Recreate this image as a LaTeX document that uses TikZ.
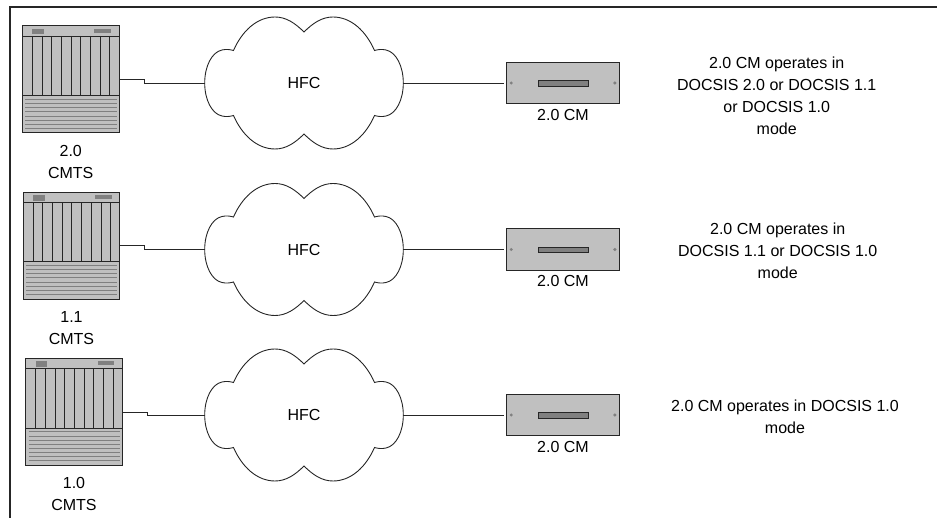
\documentclass[tikz,border=0pt]{standalone}
\usepackage{fontspec}
\setmainfont{Liberation Sans}
\usetikzlibrary{positioning}
\definecolor{boxgray}{HTML}{C0C0C0}
\definecolor{partgray}{HTML}{808080}
\definecolor{inkgray}{HTML}{262626}
\tikzset{
  lbl/.style={font=\fontsize{16}{22}\selectfont,align=center,inner sep=0pt,text=black},
  link/.style={draw=inkgray,line width=.9pt},
  frameline/.style={draw=inkgray,line width=1.2pt},
  cmtsbox/.style={draw=inkgray,line width=1pt,fill=boxgray,minimum width=96.5pt,minimum height=107pt,inner sep=0pt,outer sep=0pt},
  cmbox/.style={draw=inkgray,line width=1pt,fill=boxgray,minimum width=112.5pt,minimum height=41.5pt,inner sep=0pt,outer sep=0pt},
  hfcbox/.style={lbl,minimum width=198.6pt,minimum height=132pt,outer sep=0pt},
  chassis/.pic={
    \fill[partgray] (9.8,2.7) rectangle (21.5,8.3);
    \fill[partgray] (71.8,3) rectangle (88.5,6.7);
    \draw[inkgray,line width=.9pt] (0,10) -- (96.5,10) (0,69.5) -- (96.5,69.5);
    \draw[inkgray,line width=.9pt]
      (9.8,10) -- (9.8,69.5)
      (19.5,10) -- (19.5,69.5)
      (29.2,10) -- (29.2,69.5)
      (38.9,10) -- (38.9,69.5)
      (48.6,10) -- (48.6,69.5)
      (58.3,10) -- (58.3,69.5)
      (68,10) -- (68,69.5)
      (77.7,10) -- (77.7,69.5)
      (87.4,10) -- (87.4,69.5);
    \draw[partgray,line width=.9pt]
      (2.8,73.3) -- (94,73.3)
      (2.8,77.5) -- (94,77.5)
      (2.8,81.5) -- (94,81.5)
      (2.8,85.5) -- (94,85.5)
      (2.8,90) -- (94,90)
      (2.8,94) -- (94,94)
      (2.8,98) -- (94,98)
      (2.8,102.3) -- (94,102.3);
  },
  modemparts/.pic={
    \draw[inkgray,fill=partgray,line width=.9pt] (-25,-2.5) rectangle (25,3);
    \fill[partgray] (-51.8,0) circle (1.7);
    \fill[partgray] (51.8,0) circle (1.7);
  },
  cloudline/.pic={
    \draw[inkgray,line width=.9pt]
      (0,-51) .. controls (-9,-60) and (-18,-66) .. (-29,-66)
      .. controls (-47,-66) and (-62,-52) .. (-70.5,-32.5)
      .. controls (-74,-33.5) and (-78,-34) .. (-82,-33)
      .. controls (-92,-31) and (-99.3,-17) .. (-99.3,0)
      .. controls (-99.3,17) and (-92,31) .. (-82,33)
      .. controls (-78,34) and (-74,33.5) .. (-70.5,32.5)
      .. controls (-62,52) and (-47,66) .. (-29,66)
      .. controls (-18,66) and (-9,60) .. (0,51)
      .. controls (9,60) and (18,66) .. (29,66)
      .. controls (47,66) and (62,52) .. (70.5,32.5)
      .. controls (74,33.5) and (78,34) .. (82,33)
      .. controls (92,31) and (99.3,17) .. (99.3,0)
      .. controls (99.3,-17) and (92,-31) .. (82,-33)
      .. controls (78,-34) and (74,-33.5) .. (70.5,-32.5)
      .. controls (62,-52) and (47,-66) .. (29,-66)
      .. controls (18,-66) and (9,-60) .. (0,-51) -- cycle;
  },
}
\begin{document}
\begin{tikzpicture}[x=1pt,y=-1pt]
  \useasboundingbox (0,0) rectangle (937,518);
  \coordinate (framebl) at (10,518);
  \coordinate (frametl) at (10,7);
  \coordinate (frametr) at (937,7);
  \draw[frameline] (framebl) -- (frametl) -- (frametr);

  \node[cmtsbox] (cmts0) at (70.75,79.5) {};
  \node[cmtsbox] (cmts1) at (71.5,245.75) {};
  \node[cmtsbox] (cmts2) at (74,412) {};
  \pic at (cmts0.north west) {chassis};
  \pic at (cmts1.north west) {chassis};
  \pic at (cmts2.north west) {chassis};
  \node[lbl,below=12pt of cmts0] (cmtslbl0) {2.0\\CMTS};
  \node[lbl,below=12pt of cmts1] (cmtslbl1) {1.1\\CMTS};
  \node[lbl,below=12pt of cmts2] (cmtslbl2) {1.0\\CMTS};

  \node[hfcbox] (hfc0) at (304,83) {HFC};
  \node[hfcbox] (hfc1) at (304,249.5) {HFC};
  \node[hfcbox] (hfc2) at (304,415) {HFC};
  \pic at (hfc0) {cloudline};
  \pic at (hfc1) {cloudline};
  \pic at (hfc2) {cloudline};

  \node[cmbox] (cm0) at (563,83) {};
  \node[cmbox] (cm1) at (563,249.5) {};
  \node[cmbox] (cm2) at (563,415) {};
  \pic at (cm0) {modemparts};
  \pic at (cm1) {modemparts};
  \pic at (cm2) {modemparts};
  \node[lbl,below=5pt of cm0] (cmlbl0) {2.0 CM};
  \node[lbl,below=5pt of cm1] (cmlbl1) {2.0 CM};
  \node[lbl,below=5pt of cm2] (cmlbl2) {2.0 CM};

  \draw[link] (cmts0.east) -- ++(25,0) |- (hfc0.west);
  \draw[link] (cmts1.east) -- ++(25,0) |- (hfc1.west);
  \draw[link] (cmts2.east) -- ++(25,0) |- (hfc2.west);
  \draw[link,shorten >=3pt] (hfc0.east) -- (cm0.west);
  \draw[link,shorten >=3pt] (hfc1.east) -- (cm1.west);
  \draw[link,shorten >=3pt] (hfc2.east) -- (cm2.west);

  \node[lbl] (note0) at (776.7,96) {2.0 CM operates in\\DOCSIS 2.0 or DOCSIS 1.1\\or DOCSIS 1.0\\mode};
  \node[lbl] (note1) at (777.7,251) {2.0 CM operates in\\DOCSIS 1.1 or DOCSIS 1.0\\mode};
  \node[lbl] (note2) at (785,417) {2.0 CM operates in DOCSIS 1.0\\mode};
\end{tikzpicture}
\end{document}
